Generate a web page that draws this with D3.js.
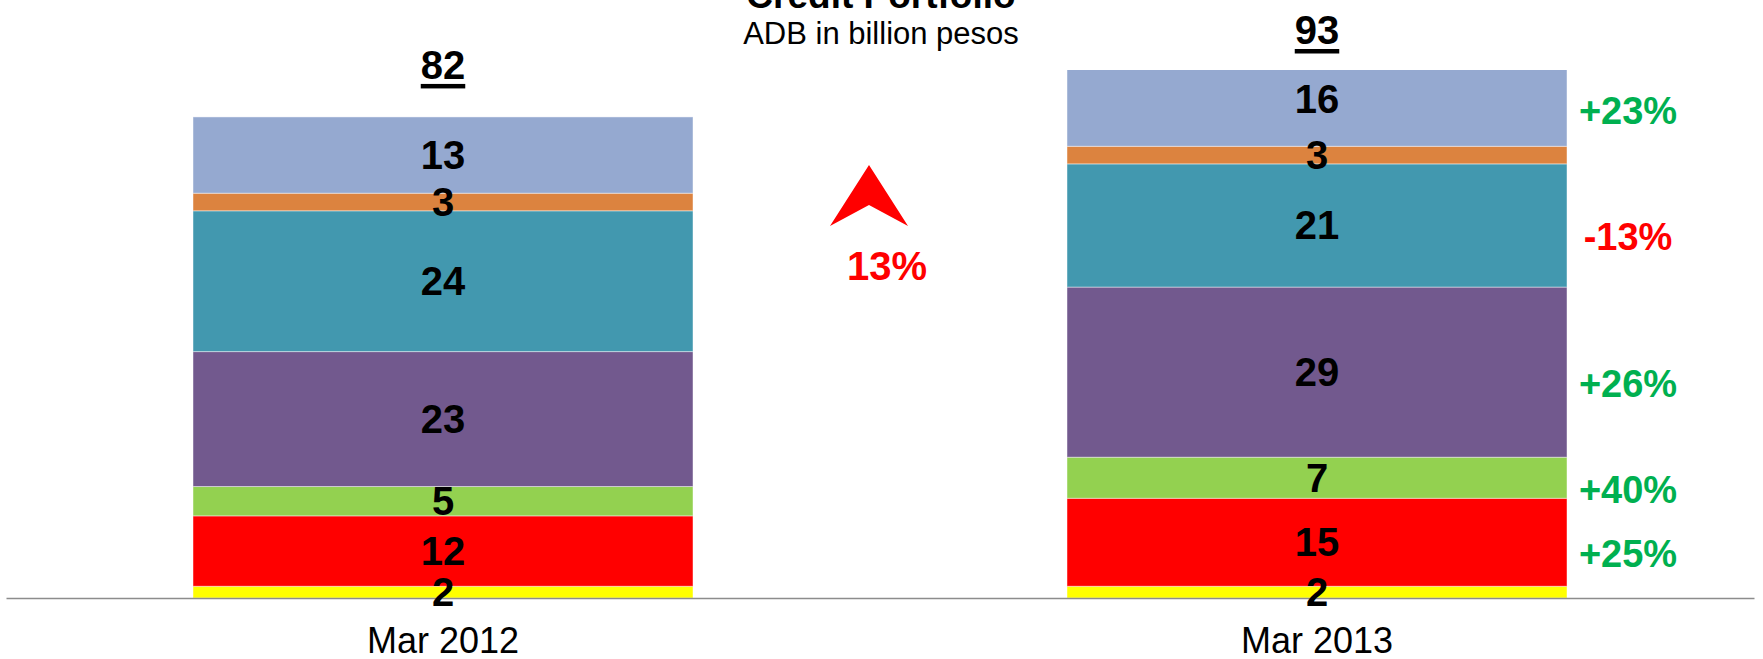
<!DOCTYPE html>
<html>
<head>
<meta charset="utf-8">
<script src="https://cdn.jsdelivr.net/npm/d3@7"></script>
<style>
  html, body { margin: 0; padding: 0; background: #ffffff; }
  svg { display: block; font-family: "Liberation Sans", Arial, sans-serif; }
</style>
</head>
<body>
<svg id="chart" width="1763" height="659"></svg>
<script>
// Credit portfolio by segment, billions of pesos (stacked bottom to top)
const categories = ["Mar 2012", "Mar 2013"];
const segmentKeys = ["seg1", "seg2", "seg3", "seg4", "seg5", "seg6", "seg7"];
const seg1 = [2, 2];
const seg2 = [12, 15];
const seg3 = [5, 7];
const seg4 = [23, 29];
const seg5 = [24, 21];
const seg6 = [3, 3];
const seg7 = [13, 16];
// year-over-year change shown next to the 2013 bar (null = not shown)
const growth = [null, 25, 40, 26, -13, null, 23];
const totalGrowth = 13;
const yMax = 90;

const segColors = ["#FFFF00", "#FF0000", "#93D150", "#72598E", "#4298AF", "#DC833F", "#95A9D0"];

const series = [seg1, seg2, seg3, seg4, seg5, seg6, seg7];
const rows = categories.map((c, i) => {
  const r = { category: c };
  segmentKeys.forEach((k, j) => { r[k] = series[j][i]; });
  return r;
});
const totals = rows.map(r => d3.sum(segmentKeys, k => r[k]));

const svg = d3.select("#chart");
const font = '"Liberation Sans", Arial, sans-serif';

const x = d3.scaleBand()
  .domain(categories)
  .range([6, 1754])
  .paddingInner(374 / 874)
  .paddingOuter(187 / 874);

const y = d3.scaleLinear().domain([0, yMax]).range([598, 70]);

const stacked = d3.stack().keys(segmentKeys)(rows);

// clip bars to the value axis range
svg.append("defs").append("clipPath").attr("id", "plot-clip")
  .append("rect")
  .attr("x", 0).attr("y", y(yMax))
  .attr("width", 1763).attr("height", y(0) - y(yMax));

const barsG = svg.append("g").attr("clip-path", "url(#plot-clip)");
barsG.selectAll("g.layer")
  .data(stacked)
  .join("g")
  .attr("class", "layer")
  .attr("fill", (d, i) => segColors[i])
  .selectAll("rect")
  .data(d => d)
  .join("rect")
  .attr("x", d => x(d.data.category))
  .attr("width", x.bandwidth())
  .attr("y", d => y(d[1]))
  .attr("height", d => y(d[0]) - y(d[1]))
  .attr("stroke", "#ffffff")
  .attr("stroke-opacity", 0.45)
  .attr("stroke-width", 1);

// category axis
const axisG = svg.append("g")
  .attr("transform", `translate(0,${y(0)})`)
  .call(d3.axisBottom(x).tickSize(0).tickSizeOuter(0));
axisG.select(".domain").attr("stroke", "#8C8C8C").attr("stroke-width", 1.6);
axisG.selectAll(".tick text")
  .attr("y", 55).attr("dy", 0)
  .attr("font-family", font)
  .attr("font-size", 36)
  .attr("fill", "#000");

// segment value labels
const labelG = svg.append("g");
stacked.forEach((layer) => {
  layer.forEach((d) => {
    const cy = (y(d[0]) + y(d[1])) / 2;
    labelG.append("text")
      .attr("x", x(d.data.category) + x.bandwidth() / 2)
      .attr("y", cy + 14)
      .attr("text-anchor", "middle")
      .attr("font-family", font)
      .attr("font-weight", "bold")
      .attr("font-size", 40)
      .attr("fill", "#000")
      .text(d[1] - d[0]);
  });
});

// totals above each bar, underlined
totals.forEach((t, i) => {
  const cx = x(categories[i]) + x.bandwidth() / 2;
  const by = Math.max(y(t) - 38, y(yMax) - 26);
  const txt = svg.append("text")
    .attr("x", cx).attr("y", by)
    .attr("text-anchor", "middle")
    .attr("font-family", font)
    .attr("font-weight", "bold")
    .attr("font-size", 40)
    .attr("fill", "#000")
    .text(t);
  const w = txt.node().getComputedTextLength();
  svg.append("rect")
    .attr("x", cx - w / 2).attr("y", by + 5)
    .attr("width", w).attr("height", 4.5)
    .attr("fill", "#000");
});

// growth labels next to the latest bar
const last = categories.length - 1;
const gx = x(categories[last]) + x.bandwidth() + 61;
stacked.forEach((layer, j) => {
  const g = growth[j];
  if (g === null) return;
  const d = layer[last];
  const cy = (y(d[0]) + y(d[1])) / 2;
  svg.append("text")
    .attr("x", gx).attr("y", cy + 25)
    .attr("text-anchor", "middle")
    .attr("font-family", font)
    .attr("font-weight", "bold")
    .attr("font-size", 38)
    .attr("fill", g >= 0 ? "#00B050" : "#FF0000")
    .text((g > 0 ? "+" : "") + g + "%");
});

// total growth marker between the bars
const midX = (x(categories[0]) + x.bandwidth() + x(categories[last])) / 2;
const ax = midX - 11;
svg.append("path")
  .attr("d", `M${ax},165 L${ax + 39},226 L${ax},205 L${ax - 39},226 Z`)
  .attr("fill", "#FF0000");
svg.append("text")
  .attr("x", ax + 18).attr("y", 280)
  .attr("text-anchor", "middle")
  .attr("font-family", font)
  .attr("font-weight", "bold")
  .attr("font-size", 40)
  .attr("fill", "#FF0000")
  .text(totalGrowth + "%");

// title block
svg.append("text")
  .attr("x", 881).attr("y", 8)
  .attr("text-anchor", "middle")
  .attr("font-family", font)
  .attr("font-weight", "bold")
  .attr("font-size", 37)
  .attr("fill", "#000")
  .text("Credit Portfolio");
svg.append("text")
  .attr("x", 881).attr("y", 44)
  .attr("text-anchor", "middle")
  .attr("font-family", font)
  .attr("font-size", 31)
  .attr("fill", "#000")
  .text("ADB in billion pesos");
</script>
</body>
</html>
